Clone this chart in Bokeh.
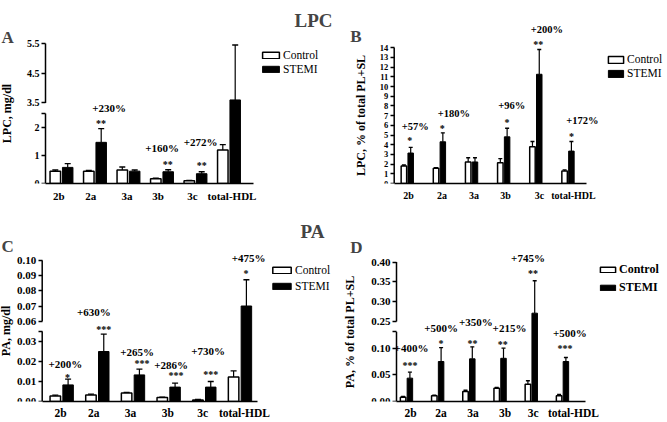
from bokeh.plotting import figure
from bokeh.layouts import column, row
from bokeh.models import (Range1d, FixedTicker, Label, Legend, LegendItem,
                          Whisker, TeeHead, ColumnDataSource)
from bokeh.core.properties import value
from bokeh.embed import file_html
from bokeh.resources import INLINE

FONT = "Liberation Serif"

categories = ["2b", "2a", "3a", "3b", "3c", "total-HDL"]

# ---------------- Panel A : LPC, mg/dl ----------------
a_control = [0.44, 0.44, 0.48, 0.17, 0.10, 1.20]
a_control_up = [0.48, 0.47, 0.59, 0.19, 0.11, 1.39]
a_stemi = [0.575, 1.47, 0.44, 0.42, 0.35, 3.60]
a_stemi_up = [0.71, 1.96, 0.48, 0.49, 0.42, 5.45]
a_stars = ["", "**", "", "**", "**", ""]
a_pct = ["", "+230%", "", "+160%", "+272%", ""]
a_ticks = [0, 1, 2, 2.5, 3.5, 4.5, 5.5]
a_tick_labels = ["0", "1", "2", "", "3.5", "4.5", "5.5"]

# ---------------- Panel B : LPC, % of total PL+SL ----------------
b_control = [1.81, 1.57, 2.22, 2.15, 3.79, 1.30]
b_control_up = [1.90, 1.64, 2.66, 2.56, 4.33, 1.40]
b_stemi = [3.14, 4.30, 2.22, 4.81, 11.26, 3.34]
b_stemi_up = [3.72, 5.22, 2.66, 5.70, 13.82, 4.33]
b_stars = ["*", "*", "", "*", "**", "*"]
b_pct = ["+57%", "+180%", "", "+96%", "+200%", "+172%"]
b_ticks = list(range(0, 15))
b_tick_labels = [str(t) for t in b_ticks]

# ---------------- Panel C : PA, mg/dl ----------------
c_control = [0.0028, 0.0033, 0.0042, 0.0020, 0.0008, 0.0122]
c_control_up = [0.0032, 0.0037, 0.0045, 0.0022, 0.0010, 0.0153]
c_stemi = [0.0083, 0.0250, 0.0133, 0.0072, 0.0072, 0.0700]
c_stemi_up = [0.0112, 0.0337, 0.0162, 0.0092, 0.0100, 0.0873]
c_stars = ["*", "***", "***", "***", "***", "*"]
c_pct = ["+200%", "+630%", "+265%", "+286%", "+730%", "+475%"]
c_ticks = [0.0, 0.01, 0.02, 0.03, 0.035, 0.06, 0.07, 0.08, 0.09, 0.10]
c_tick_labels = ["0.00", "0.01", "0.02", "0.03", "", "0.06", "0.07", "0.08", "0.09", "0.10"]

# ---------------- Panel D : PA, % of total PL+SL ----------------
d_control = [0.0081, 0.0106, 0.0188, 0.0250, 0.0325, 0.0110]
d_control_up = [0.0094, 0.0120, 0.0210, 0.0265, 0.0390, 0.0130]
d_stemi = [0.0438, 0.0750, 0.0800, 0.0810, 0.2710, 0.0750]
d_stemi_up = [0.0550, 0.1010, 0.1025, 0.1000, 0.3530, 0.0825]
d_stars = ["***", "*", "**", "**", "**", "***"]
d_pct = ["+400%", "+500%", "+350%", "+215%", "+745%", "+500%"]
d_ticks = [0.0, 0.05, 0.10, 0.131, 0.25, 0.30, 0.35, 0.40]
d_tick_labels = ["0.00", "0.05", "0.10", "", "0.25", "0.30", "0.35", "0.40"]


def broken_map(s1, b1=None, b2=None, h2=None, s2=None):
    """value -> pixels above the x axis, with an optional axis break"""
    def f(v):
        if b1 is None or v <= b1:
            return round(v * s1, 4)
        if v >= b2:
            return round(h2 + (v - b2) * s2, 4)
        t = (v - b1) / (b2 - b1)
        return round(b1 * s1 + t * (h2 - b1 * s1), 4)
    return f


def panel(ctrl, ctrl_up, stemi, stemi_up, stars, pcts, ticks, tick_labels,
          ylabel, ymap, segments, g, st):
    ppc = g["ppc"]
    fw, fh = g["fw"], g["fh"]
    axis_loc = -g["first"] / ppc            # where the y axis sits (data units)
    x0 = axis_loc - g["axis_x"] / ppc       # left edge of the frame
    x1 = x0 + fw / ppc
    x_axis_end = axis_loc + g["axis_len"] / ppc

    p = figure(frame_width=fw, frame_height=fh, x_range=Range1d(x0, x1),
               y_range=Range1d(0, fh), output_backend="svg",
               toolbar_location=None, title=None)
    p.min_border = 0
    p.min_border_bottom = g["bottom"]
    p.outline_line_color = None
    p.xgrid.visible = False
    p.ygrid.visible = False

    idx = list(range(len(categories)))
    bw = g["bar"] / ppc
    off = g["off"] / ppc
    xc = [i - off for i in idx]
    xs = [i + off for i in idx]

    src_c = ColumnDataSource(dict(x=xc, top=[ymap(v) for v in ctrl],
                                  up=[ymap(v) for v in ctrl_up]))
    src_s = ColumnDataSource(dict(x=xs, top=[ymap(v) for v in stemi],
                                  up=[ymap(v) for v in stemi_up]))

    for src in (src_c, src_s):
        w = Whisker(source=src, base="x", upper="up", lower="top",
                    dimension="height", line_color="black", line_width=1.2,
                    lower_head=None,
                    upper_head=TeeHead(size=g["tee"], line_color="black", line_width=1.4))
        p.add_layout(w)

    r_c = p.vbar(x="x", top="top", bottom=0, width=bw, source=src_c,
                 fill_color="white", line_color="black", line_width=1.5)
    r_s = p.vbar(x="x", top="top", bottom=0, width=bw, source=src_s,
                 fill_color="black", line_color="black", line_width=1.0)

    # significance marks and percentages
    sx, sy, stxt, px_, py_, ptxt = [], [], [], [], [], []
    for i in idx:
        base = ymap(stemi_up[i])
        if stars[i]:
            sx.append(xs[i] + st["sdx"][i] / ppc)
            sy.append(base + st["sdy"][i] - 0.49 * st["star_fs"])
            stxt.append(stars[i])
        if pcts[i]:
            px_.append(xs[i] + st["pdx"][i] / ppc)
            py_.append(base + st["pdy"][i] - 0.33 * st["pct_fs"])
            ptxt.append(pcts[i])
    p.text(x=sx, y=sy, text=stxt, text_font=value(FONT), text_font_style="bold",
           text_font_size=f"{st['star_fs']}px", text_align="center",
           text_baseline="alphabetic", text_color="black")
    p.text(x=px_, y=py_, text=ptxt, text_font=value(FONT), text_font_style="bold",
           text_font_size=f"{st['pct_fs']}px", text_align="center",
           text_baseline="alphabetic", text_color="black")

    # broken y-axis line
    p.segment(x0=[axis_loc] * len(segments), x1=[axis_loc] * len(segments),
              y0=[ymap(a) for a, b in segments], y1=[ymap(b) for a, b in segments],
              line_color="black", line_width=1.5)

    # x axis (category labels, nudged as in the original typesetting)
    xa = p.xaxis[0]
    xt = [round(i + d / ppc, 4) for i, d in zip(idx, st["lab_dx"])]
    xa.ticker = FixedTicker(ticks=xt)
    xa.major_label_overrides = {t: c for t, c in zip(xt, categories)}
    xa.bounds = (axis_loc, x_axis_end)
    xa.axis_line_width = 1.5
    xa.axis_line_color = "black"
    xa.major_tick_out = 0
    xa.major_tick_in = 0
    xa.minor_tick_out = 0
    xa.minor_tick_in = 0
    xa.major_label_standoff = int(g["xstand"])
    xa.major_label_text_font = FONT
    xa.major_label_text_font_style = "bold"
    xa.major_label_text_font_size = st["xfs"]
    xa.major_label_text_color = "black"

    # y axis (pinned at the bar-chart origin, inside the frame)
    ya = p.yaxis[0]
    ya.fixed_location = axis_loc
    tpos = [ymap(t) for t in ticks]
    ya.ticker = FixedTicker(ticks=tpos)
    ya.major_label_overrides = {tp: lab for tp, lab in zip(tpos, tick_labels)}
    ya.bounds = (0, ymap(max(ticks)))
    ya.axis_line_color = None
    ya.major_tick_out = 4
    ya.major_tick_in = 0
    ya.major_tick_line_width = 1.3
    ya.major_tick_line_color = "black"
    ya.minor_tick_out = 0
    ya.minor_tick_in = 0
    ya.major_label_standoff = 2
    ya.major_label_text_font = FONT
    ya.major_label_text_font_style = "bold"
    ya.major_label_text_font_size = st["yfs"]
    ya.major_label_text_color = "black"
    ya.axis_label = ylabel
    ya.axis_label_standoff = int(round(g["lstand"]))
    ya.axis_label_text_font = FONT
    ya.axis_label_text_font_style = "bold"
    ya.axis_label_text_font_size = "12px"
    ya.axis_label_text_color = "black"

    leg = Legend(items=[LegendItem(label="Control", renderers=[r_c]),
                        LegendItem(label="STEMI", renderers=[r_s])],
                 location=g["leg_loc"], glyph_width=g["gw"], glyph_height=g["gh"],
                 label_height=10, label_standoff=2, spacing=g["lsp"],
                 padding=0, margin=0, border_line_color=None,
                 background_fill_alpha=0, label_text_font=FONT,
                 label_text_font_size=st["lfs"], label_text_font_style=st["lstyle"],
                 label_text_color="black")
    p.add_layout(leg)

    p.add_layout(Label(x=g["letter"][0], y=g["letter"][1], x_units="screen",
                       y_units="screen", text=g["letter"][2], text_font=FONT,
                       text_font_style="bold", text_font_size="17px",
                       text_align="left", text_baseline="alphabetic"))
    if "title" in g:
        p.add_layout(Label(x=g["title"][0], y=g["title"][1], x_units="screen",
                           y_units="screen", text=g["title"][2], text_font=FONT,
                           text_font_style="bold", text_font_size="19px",
                           text_align="center", text_baseline="alphabetic"))
    return p


geo_a = dict(fw=334, fh=183, bottom=20, axis_x=45, ppc=33.5, first=16, axis_len=208,
             bar=10.5, off=6.2, tee=6, xstand=6, lstand=10,
             leg_loc=(260, 108), gw=21, gh=8, lsp=2,
             letter=(1, 146, "A"), title=(313, 163, "LPC"))
sty_a = dict(star_fs=10, pct_fs=11, xfs="11px", yfs="10px", lfs="11.5px", lstyle="normal",
             lab_dx=[-2.7, -4.3, -1.6, -4, -3, 3],
             sdx=[0, -0.3, 0, -0.4, 0, 0], sdy=[0, 10.1, 0, 10.6, 11.5, 0],
             pdx=[0, 8, 0, -6, -1, 0], pdy=[0, 24.1, 0, 25.3, 33.8, 0])

geo_b = dict(fw=330, fh=183, bottom=20, axis_x=59.7, ppc=32.14, first=13.1, axis_len=192.3,
             bar=5.5, off=3.4, tee=4, xstand=6, lstand=9,
             leg_loc=(272, 104), gw=19, gh=9, lsp=2,
             letter=(15.7, 147, "B"))
sty_b = dict(star_fs=10, pct_fs=10.5, xfs="10px", yfs="8.5px", lfs="11.5px", lstyle="normal",
             lab_dx=[1.2, 2.5, 2.3, 1.7, 3.5, 5.5],
             sdx=[-1, -0.5, 0, 0, -1, 0], sdy=[11.5, 9, 0, 10.7, 10.2, 9.6],
             pdx=[4.6, 11, 0, 4.7, 7.5, 11], pdy=[23.9, 22.7, 0, 25.7, 23.2, 24])

geo_c = dict(fw=334, fh=197, bottom=18, axis_x=41.7, ppc=35.66, first=19.5, axis_len=215.3,
             bar=10.5, off=6.4, tee=6, xstand=5, lstand=1,
             leg_loc=(270, 109), gw=23, gh=8, lsp=4,
             letter=(1, 155.3, "C"), title=(312, 170.3, "PA"))
sty_c = dict(star_fs=10, pct_fs=11, xfs="11.5px", yfs="11px", lfs="11.5px", lstyle="normal",
             lab_dx=[-1.2, -3.7, -2.5, -0.8, -1.6, 4.5],
             sdx=[-0.5, 0, 2.6, 1, 0, -0.4], sdy=[7, 9.3, 11, 12.3, 11.7, 10.9],
             pdx=[-2.8, -10, -2.4, -4, -2.6, 2.2], pdy=[18.3, 26, 20.3, 21.6, 34, 25.6])

geo_d = dict(fw=330, fh=197, bottom=18, axis_x=62, ppc=31.2, first=10, axis_len=189,
             bar=5.5, off=3.4, tee=4, xstand=5, lstand=11,
             leg_loc=(264, 106), gw=19, gh=7, lsp=3,
             letter=(15.7, 154.3, "D"))
sty_d = dict(star_fs=10, pct_fs=11, xfs="11.5px", yfs="11px", lfs="12px", lstyle="bold",
             lab_dx=[4, 3.3, 4, 5, 2, 11],
             sdx=[0, 0, 0.3, -0.7, -1.7, -1], sdy=[11.4, 8.8, 8.7, 8.4, 11.9, 13.7],
             pdx=[1.6, 0, 3.6, 6, -6.7, 4], pdy=[27.4, 22.8, 28.7, 23.4, 26.6, 27.7])

pA = panel(a_control, a_control_up, a_stemi, a_stemi_up, a_stars, a_pct,
           a_ticks, a_tick_labels, "LPC, mg/dl",
           broken_map(28, 2.5, 3.5, 80.6, 29.7), [(0, 2.5), (3.5, 5.5)], geo_a, sty_a)
pB = panel(b_control, b_control_up, b_stemi, b_stemi_up, b_stars, b_pct,
           b_ticks, b_tick_labels, "LPC, % of total PL+SL",
           broken_map(9.7), [(0, 14)], geo_b, sty_b)
pC = panel(c_control, c_control_up, c_stemi, c_stemi_up, c_stars, c_pct,
           c_ticks, c_tick_labels, "PA, mg/dl",
           broken_map(2000, 0.035, 0.06, 80.3, 1520), [(0, 0.035), (0.06, 0.10)], geo_c, sty_c)
pD = panel(d_control, d_control_up, d_stemi, d_stemi_up, d_stars, d_pct,
           d_ticks, d_tick_labels, "PA, % of total PL+SL",
           broken_map(533.3, 0.131, 0.25, 80, 396), [(0, 0.131), (0.25, 0.40)], geo_d, sty_d)

layout = column(row(pA, pB), row(pC, pD))

with open("out.html", "w") as fh_:
    fh_.write(file_html(layout, INLINE))
